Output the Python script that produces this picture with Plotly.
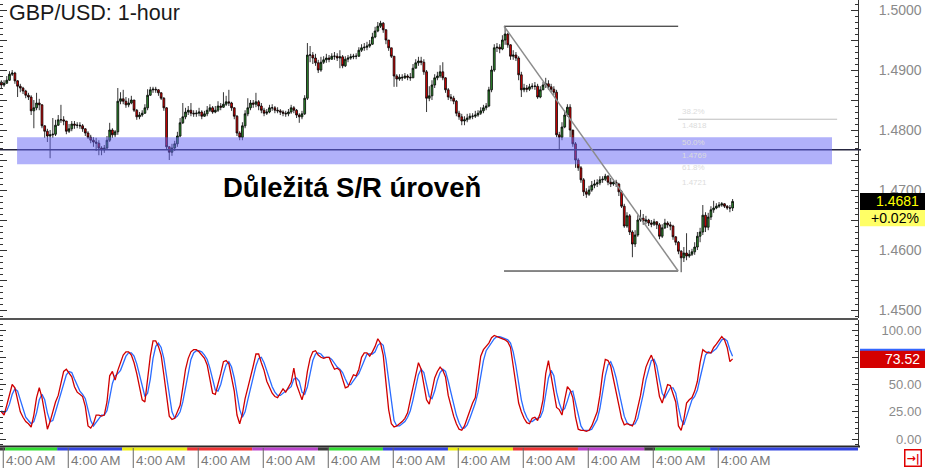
import plotly.graph_objects as go

# ---------------- data ----------------
first_open = 1.4880
close_ = [
    1.4875, 1.4878, 1.4883, 1.4893, 1.4895, 1.4882, 1.4873, 1.4870, 1.4865, 1.4858, 1.4855, 1.4832, 1.4837, 1.4845, 1.4842, 1.4807, 1.4798, 1.4790, 1.4792, 1.4793, 1.4808, 1.4817, 1.4817, 1.4815,
    1.4798, 1.4802, 1.4810, 1.4808, 1.4808, 1.4807, 1.4802, 1.4795, 1.4788, 1.4783, 1.4780, 1.4778, 1.4770, 1.4767, 1.4770, 1.4783, 1.4800, 1.4792, 1.4797, 1.4848, 1.4852, 1.4848, 1.4842, 1.4845,
    1.4850, 1.4833, 1.4822, 1.4825, 1.4828, 1.4837, 1.4858, 1.4867, 1.4868, 1.4867, 1.4862, 1.4853, 1.4837, 1.4772, 1.4763, 1.4770, 1.4777, 1.4790, 1.4812, 1.4822, 1.4830, 1.4833, 1.4828, 1.4827,
    1.4828, 1.4830, 1.4823, 1.4827, 1.4833, 1.4837, 1.4830, 1.4833, 1.4840, 1.4838, 1.4843, 1.4847, 1.4845, 1.4837, 1.4823, 1.4795, 1.4788, 1.4807, 1.4827, 1.4837, 1.4845, 1.4843, 1.4847, 1.4840,
    1.4833, 1.4828, 1.4830, 1.4837, 1.4837, 1.4833, 1.4832, 1.4830, 1.4828, 1.4827, 1.4830, 1.4837, 1.4833, 1.4825, 1.4822, 1.4827, 1.4853, 1.4925, 1.4925, 1.4920, 1.4912, 1.4900, 1.4913, 1.4917,
    1.4920, 1.4918, 1.4923, 1.4923, 1.4920, 1.4922, 1.4907, 1.4918, 1.4920, 1.4922, 1.4923, 1.4923, 1.4933, 1.4937, 1.4938, 1.4940, 1.4943, 1.4955, 1.4965, 1.4973, 1.4978, 1.4967, 1.4950, 1.4937,
    1.4923, 1.4890, 1.4885, 1.4888, 1.4887, 1.4890, 1.4888, 1.4887, 1.4903, 1.4912, 1.4915, 1.4913, 1.4897, 1.4853, 1.4857, 1.4875, 1.4887, 1.4890, 1.4897, 1.4887, 1.4867, 1.4855, 1.4853, 1.4848,
    1.4828, 1.4822, 1.4815, 1.4817, 1.4820, 1.4823, 1.4823, 1.4825, 1.4828, 1.4832, 1.4837, 1.4840, 1.4867, 1.4900, 1.4937, 1.4938, 1.4935, 1.4950, 1.4960, 1.4942, 1.4923, 1.4925, 1.4920, 1.4892,
    1.4867, 1.4870, 1.4868, 1.4872, 1.4873, 1.4873, 1.4855, 1.4867, 1.4875, 1.4877, 1.4872, 1.4868, 1.4863, 1.4792, 1.4788, 1.4805, 1.4825, 1.4838, 1.4800, 1.4777, 1.4750, 1.4737, 1.4717, 1.4697,
    1.4693, 1.4700, 1.4708, 1.4710, 1.4712, 1.4717, 1.4718, 1.4723, 1.4713, 1.4710, 1.4713, 1.4710, 1.4697, 1.4673, 1.4640, 1.4657, 1.4630, 1.4610, 1.4625, 1.4650, 1.4653, 1.4648, 1.4650, 1.4645,
    1.4643, 1.4647, 1.4642, 1.4623, 1.4637, 1.4645, 1.4642, 1.4640, 1.4622, 1.4613, 1.4598, 1.4587, 1.4595, 1.4590, 1.4593, 1.4597, 1.4605, 1.4623, 1.4630, 1.4658, 1.4638, 1.4655, 1.4667, 1.4670,
    1.4673, 1.4675, 1.4677, 1.4673, 1.4670, 1.4670, 1.4681,
]
high_ = [
    1.4883, 1.4883, 1.4890, 1.4898, 1.4900, 1.4897, 1.4883, 1.4877, 1.4872, 1.4867, 1.4862, 1.4858, 1.4850, 1.4862, 1.4852, 1.4843, 1.4808, 1.4802, 1.4800, 1.4820, 1.4817, 1.4825, 1.4842, 1.4823,
    1.4815, 1.4810, 1.4815, 1.4815, 1.4813, 1.4813, 1.4810, 1.4803, 1.4798, 1.4792, 1.4788, 1.4787, 1.4783, 1.4773, 1.4775, 1.4790, 1.4812, 1.4803, 1.4800, 1.4870, 1.4863, 1.4867, 1.4855, 1.4853,
    1.4857, 1.4850, 1.4835, 1.4830, 1.4833, 1.4843, 1.4868, 1.4872, 1.4872, 1.4872, 1.4868, 1.4863, 1.4855, 1.4838, 1.4773, 1.4777, 1.4782, 1.4797, 1.4820, 1.4845, 1.4837, 1.4840, 1.4845, 1.4833,
    1.4833, 1.4837, 1.4833, 1.4832, 1.4840, 1.4843, 1.4840, 1.4840, 1.4848, 1.4845, 1.4863, 1.4857, 1.4867, 1.4847, 1.4838, 1.4825, 1.4798, 1.4813, 1.4833, 1.4853, 1.4850, 1.4850, 1.4862, 1.4850,
    1.4845, 1.4837, 1.4835, 1.4842, 1.4843, 1.4840, 1.4838, 1.4835, 1.4833, 1.4832, 1.4835, 1.4842, 1.4840, 1.4835, 1.4828, 1.4832, 1.4858, 1.4945, 1.4940, 1.4930, 1.4927, 1.4917, 1.4922, 1.4923,
    1.4927, 1.4925, 1.4928, 1.4930, 1.4928, 1.4933, 1.4925, 1.4923, 1.4925, 1.4927, 1.4927, 1.4928, 1.4938, 1.4943, 1.4945, 1.4947, 1.4950, 1.4962, 1.4972, 1.4980, 1.4982, 1.4980, 1.4968, 1.4950,
    1.4937, 1.4923, 1.4893, 1.4893, 1.4893, 1.4895, 1.4893, 1.4895, 1.4910, 1.4918, 1.4922, 1.4922, 1.4918, 1.4900, 1.4873, 1.4883, 1.4893, 1.4897, 1.4908, 1.4913, 1.4888, 1.4870, 1.4860, 1.4857,
    1.4850, 1.4832, 1.4827, 1.4823, 1.4827, 1.4828, 1.4828, 1.4832, 1.4833, 1.4838, 1.4842, 1.4845, 1.4872, 1.4907, 1.4943, 1.4945, 1.4943, 1.4958, 1.4972, 1.4962, 1.4943, 1.4933, 1.4930, 1.4923,
    1.4897, 1.4877, 1.4875, 1.4877, 1.4878, 1.4880, 1.4877, 1.4873, 1.4880, 1.4887, 1.4883, 1.4877, 1.4873, 1.4867, 1.4797, 1.4813, 1.4833, 1.4843, 1.4843, 1.4792, 1.4780, 1.4753, 1.4740, 1.4720,
    1.4703, 1.4707, 1.4715, 1.4717, 1.4718, 1.4723, 1.4723, 1.4727, 1.4725, 1.4720, 1.4718, 1.4717, 1.4712, 1.4700, 1.4677, 1.4663, 1.4660, 1.4633, 1.4633, 1.4658, 1.4667, 1.4660, 1.4657, 1.4652,
    1.4650, 1.4652, 1.4648, 1.4645, 1.4643, 1.4652, 1.4648, 1.4647, 1.4642, 1.4623, 1.4615, 1.4600, 1.4605, 1.4628, 1.4600, 1.4602, 1.4613, 1.4630, 1.4637, 1.4675, 1.4663, 1.4662, 1.4673, 1.4682,
    1.4678, 1.4680, 1.4680, 1.4678, 1.4675, 1.4675, 1.4685,
]
low_ = [
    1.4870, 1.4872, 1.4877, 1.4882, 1.4890, 1.4877, 1.4855, 1.4863, 1.4860, 1.4853, 1.4850, 1.4825, 1.4803, 1.4833, 1.4833, 1.4803, 1.4787, 1.4780, 1.4753, 1.4787, 1.4790, 1.4807, 1.4812, 1.4808,
    1.4793, 1.4795, 1.4798, 1.4802, 1.4803, 1.4802, 1.4797, 1.4790, 1.4785, 1.4778, 1.4772, 1.4765, 1.4758, 1.4758, 1.4762, 1.4767, 1.4780, 1.4787, 1.4788, 1.4792, 1.4843, 1.4843, 1.4837, 1.4838,
    1.4843, 1.4830, 1.4817, 1.4818, 1.4822, 1.4827, 1.4833, 1.4857, 1.4862, 1.4862, 1.4857, 1.4850, 1.4832, 1.4767, 1.4750, 1.4757, 1.4765, 1.4772, 1.4788, 1.4810, 1.4818, 1.4825, 1.4823, 1.4822,
    1.4822, 1.4823, 1.4818, 1.4822, 1.4823, 1.4830, 1.4827, 1.4828, 1.4830, 1.4833, 1.4837, 1.4840, 1.4840, 1.4832, 1.4818, 1.4790, 1.4783, 1.4783, 1.4803, 1.4823, 1.4833, 1.4837, 1.4838, 1.4833,
    1.4828, 1.4823, 1.4825, 1.4828, 1.4832, 1.4828, 1.4828, 1.4825, 1.4823, 1.4822, 1.4823, 1.4827, 1.4828, 1.4820, 1.4812, 1.4818, 1.4825, 1.4850, 1.4913, 1.4910, 1.4907, 1.4895, 1.4897, 1.4910,
    1.4912, 1.4913, 1.4917, 1.4917, 1.4915, 1.4903, 1.4903, 1.4905, 1.4913, 1.4917, 1.4918, 1.4918, 1.4922, 1.4930, 1.4932, 1.4933, 1.4937, 1.4942, 1.4953, 1.4963, 1.4970, 1.4962, 1.4943, 1.4932,
    1.4920, 1.4872, 1.4872, 1.4882, 1.4882, 1.4885, 1.4883, 1.4882, 1.4887, 1.4903, 1.4907, 1.4908, 1.4892, 1.4830, 1.4848, 1.4850, 1.4870, 1.4883, 1.4887, 1.4883, 1.4862, 1.4850, 1.4848, 1.4843,
    1.4823, 1.4817, 1.4808, 1.4808, 1.4813, 1.4817, 1.4818, 1.4820, 1.4822, 1.4825, 1.4828, 1.4833, 1.4838, 1.4863, 1.4897, 1.4930, 1.4928, 1.4933, 1.4942, 1.4937, 1.4917, 1.4917, 1.4915, 1.4883,
    1.4855, 1.4863, 1.4863, 1.4865, 1.4868, 1.4867, 1.4852, 1.4853, 1.4867, 1.4870, 1.4867, 1.4863, 1.4858, 1.4788, 1.4767, 1.4783, 1.4803, 1.4822, 1.4788, 1.4772, 1.4737, 1.4732, 1.4712, 1.4690,
    1.4687, 1.4690, 1.4697, 1.4703, 1.4705, 1.4708, 1.4712, 1.4715, 1.4708, 1.4705, 1.4707, 1.4705, 1.4690, 1.4670, 1.4637, 1.4637, 1.4625, 1.4588, 1.4605, 1.4622, 1.4647, 1.4642, 1.4643, 1.4640,
    1.4638, 1.4640, 1.4635, 1.4618, 1.4620, 1.4635, 1.4637, 1.4633, 1.4617, 1.4608, 1.4593, 1.4563, 1.4580, 1.4583, 1.4587, 1.4590, 1.4592, 1.4600, 1.4613, 1.4625, 1.4630, 1.4633, 1.4650, 1.4662,
    1.4668, 1.4670, 1.4672, 1.4670, 1.4667, 1.4663, 1.4665,
]
open_ = [first_open] + close_[:-1]   # hourly FX: each bar opens at the previous close
bars = list(range(len(close_)))

stoch_k = [
    25, 22, 31, 42, 50, 47, 36, 25, 20, 16, 14, 11, 22, 38, 47, 38, 24, 9, 16, 25, 34, 40, 50, 62,
    64, 61, 57, 48, 43, 41, 39, 30, 12, 10, 14, 22, 22, 21, 22, 34, 58, 62, 54, 63, 71, 77, 80, 80,
    77, 70, 60, 48, 36, 34, 55, 76, 90, 90, 85, 77, 59, 37, 21, 18, 19, 25, 31, 47, 64, 74, 80, 82,
    82, 80, 77, 74, 68, 53, 42, 41, 50, 60, 71, 72, 69, 56, 44, 22, 14, 23, 37, 47, 56, 67, 78, 78,
    70, 63, 53, 48, 42, 39, 38, 42, 46, 43, 48, 52, 65, 50, 43, 36, 45, 62, 74, 80, 81, 77, 75, 74,
    75, 75, 69, 64, 65, 63, 55, 47, 48, 54, 59, 58, 64, 75, 79, 79, 76, 80, 85, 92, 88, 77, 54, 27,
    14, 11, 12, 14, 16, 19, 24, 36, 48, 59, 70, 64, 49, 36, 32, 44, 56, 62, 66, 63, 57, 40, 30, 21,
    14, 9, 8, 12, 19, 27, 33, 38, 57, 76, 82, 85, 88, 93, 95, 94, 93, 92, 91, 89, 84, 67, 49, 33,
    25, 19, 15, 14, 19, 20, 17, 24, 36, 60, 72, 58, 43, 29, 27, 22, 36, 48, 45, 38, 20, 9, 8, 8,
    7, 8, 12, 18, 25, 40, 60, 73, 72, 67, 56, 44, 31, 19, 13, 14, 13, 12, 18, 28, 40, 55, 66, 72,
    77, 70, 53, 39, 33, 42, 50, 49, 42, 34, 12, 8, 18, 33, 36, 38, 44, 53, 70, 82, 80, 79, 79, 84,
    87, 91, 94, 91, 84, 71, 73.52,
]
stoch_d = [
    26, 24, 26, 32, 41, 46, 44, 36, 27, 20, 17, 14, 16, 24, 36, 41, 36, 24, 16, 17, 25, 33, 41, 51,
    59, 62, 61, 55, 49, 44, 41, 37, 27, 17, 12, 15, 19, 22, 22, 26, 38, 51, 58, 60, 63, 70, 76, 79,
    79, 76, 69, 59, 48, 39, 42, 55, 74, 85, 88, 84, 74, 58, 39, 25, 19, 21, 25, 34, 47, 62, 73, 79,
    81, 81, 80, 77, 73, 65, 54, 45, 44, 50, 60, 68, 71, 66, 56, 41, 27, 20, 25, 36, 47, 57, 67, 74,
    75, 70, 62, 55, 48, 43, 40, 40, 42, 44, 46, 48, 55, 56, 53, 43, 41, 48, 60, 72, 78, 79, 78, 75,
    75, 75, 73, 69, 66, 64, 61, 55, 50, 50, 54, 57, 60, 66, 73, 78, 78, 78, 80, 86, 88, 86, 73, 53,
    32, 17, 12, 12, 14, 16, 20, 26, 36, 48, 59, 64, 61, 50, 39, 37, 44, 54, 61, 64, 62, 53, 42, 30,
    22, 15, 10, 10, 13, 19, 26, 33, 43, 57, 72, 81, 85, 89, 92, 94, 94, 93, 92, 91, 88, 80, 67, 50,
    36, 26, 20, 16, 16, 18, 19, 20, 26, 40, 56, 63, 58, 43, 33, 26, 28, 35, 43, 44, 34, 22, 12, 8,
    8, 8, 9, 13, 18, 28, 42, 58, 68, 71, 65, 56, 44, 31, 21, 15, 13, 13, 14, 19, 29, 41, 54, 64,
    72, 73, 67, 54, 42, 38, 42, 47, 47, 42, 29, 18, 13, 20, 29, 36, 39, 45, 56, 68, 77, 80, 79, 81,
    83, 87, 91, 92, 90, 82, 76,
]

title_text = "GBP/USD: 1-hour"
sr_label = "Důležitá S/R úroveň"
label_bars = [0, 24, 48, 72, 96, 120, 144, 168, 192, 216, 240, 264]
tick_labels = ["4:00 AM"] * 12
price_ticks = [1.4500, 1.4550, 1.4600, 1.4650, 1.4700, 1.4750, 1.4800, 1.4850, 1.4900, 1.4950, 1.5000]
price_tick_text = ["1.4500", "", "1.4600", "", "1.4700", "", "1.4800", "", "1.4900", "", "1.5000"]
stoch_ticks = [0, 25, 50, 75, 100]
# the 75.00 label sits fully under the value box in the reference
stoch_tick_text = ["\u2007\u20070.00", "\u200725.00", "\u200750.00", "", "100.00"]
last_price_text = "1.4681"
change_text = "+0.02%"
stoch_last_text = "73.52"

sr_level = 1.4767
sr_zone_low, sr_zone_high = 1.4743, 1.4788
swing_high, swing_low = 1.4973, 1.4565
fib_382 = 1.4818
fib_labels = [("38.2%", 1.4831), ("1.4818", 1.4808), ("50.0%", 1.4780), ("1.4769", 1.4758),
              ("61.8%", 1.4737), ("1.4721", 1.4713)]

# session strip (day-of-week colours) boundaries in bar units
strip_edges = [-0.5, 1.4, 20.6, 44.6, 68.6, 92.6, 116.9, 121.0, 140.9, 164.9, 188.9, 212.9, 237.4, 241.4, 261.7, 316.4]
strip_colors = ["#3a3a3a", "#33dd33", "#3344e0", "#eeee11", "#ee3333", "#bb44cc", "#3a3a3a",
                "#33dd33", "#3344e0", "#eeee11", "#ee3333", "#bb44cc", "#3a3a3a", "#33dd33", "#3344e0"]

# ---------------- geometry ----------------
W, H = 925, 468
PW, PH = 858, 446          # plot area in pixels (l=0, t=0)
def px(x):  # pixel x -> paper
    return x / PW
def py(y):  # pixel y -> paper
    return (PH - y) / PH

FONT = "Liberation Sans, Arial, sans-serif"
XR = [-0.5, 316.3]

fig = go.Figure()
fig.add_trace(go.Candlestick(
    x=bars, open=open_, high=high_, low=low_, close=close_,
    increasing=dict(line=dict(color="#000000", width=0.8), fillcolor="#2f8f2f"),
    decreasing=dict(line=dict(color="#000000", width=0.8), fillcolor="#e00000"),
    whiskerwidth=0, xaxis="x", yaxis="y", showlegend=False, hoverinfo="skip"))
fig.add_trace(go.Scatter(x=bars, y=stoch_d, mode="lines", line=dict(color="#2a6cff", width=1.3),
                         xaxis="x2", yaxis="y2", showlegend=False, hoverinfo="skip"))
fig.add_trace(go.Scatter(x=bars, y=stoch_k, mode="lines", line=dict(color="#d00000", width=1.3),
                         xaxis="x2", yaxis="y2", showlegend=False, hoverinfo="skip"))

axis_common = dict(showgrid=False, zeroline=False)
fig.update_layout(
    width=W, height=H, margin=dict(l=0, r=W - PW, t=0, b=H - PH),
    paper_bgcolor="white", plot_bgcolor="white", showlegend=False,
    font=dict(family=FONT), boxgap=0.05,
    xaxis=dict(domain=[0, 1], range=XR, anchor="y", showticklabels=False, ticks="",
               rangeslider=dict(visible=False), **axis_common),
    xaxis2=dict(domain=[0, 1], range=XR, anchor="y2", matches="x", showticklabels=False, ticks="",
                **axis_common),
    yaxis=dict(domain=[0.2870, 1], range=[1.44867, 1.50167], side="right", anchor="x",
               tickmode="array", tickvals=price_ticks, ticktext=price_tick_text,
               ticks="inside", ticklen=7, tickwidth=1, tickcolor="#333333",
               showline=True, linecolor="#333333", linewidth=1, mirror="ticks",
               tickfont=dict(family=FONT, size=14, color="#8a8a8a"), ticklabelstandoff=17,
               minor=dict(tickmode="linear", tick0=1.5, dtick=0.001, ticks="inside", ticklen=3,
                          tickcolor="#333333"),
               **axis_common),
    yaxis2=dict(domain=[0, 0.2825], range=[-6.4, 109.2], side="right", anchor="x2",
                tickmode="array", tickvals=stoch_ticks, ticktext=stoch_tick_text,
                ticks="inside", ticklen=6, tickwidth=1, tickcolor="#333333",
                showline=True, linecolor="#333333", linewidth=1, mirror="ticks",
                tickfont=dict(family=FONT, size=13, color="#8a8a8a"), ticklabelstandoff=20,
                minor=dict(tickmode="linear", tick0=0, dtick=5, ticks="inside", ticklen=3,
                           tickcolor="#333333"),
                **axis_common),
)

shapes = []
# S/R line (under the translucent band)
shapes.append(dict(type="line", xref="paper", yref="y", x0=0, x1=px(861), y0=sr_level, y1=sr_level,
                   line=dict(color="#262640", width=1.5), layer="above"))
shapes.append(dict(type="rect", xref="x", yref="y", x0=5.8, x1=306.7, y0=sr_zone_low, y1=sr_zone_high,
                   fillcolor="rgb(100,100,245)", opacity=0.5, line=dict(width=0), layer="above"))
# swing drawing
x_top, x_bot = 185.6, 249.9
shapes.append(dict(type="line", xref="x", yref="y", x0=x_top, x1=x_bot, y0=swing_high, y1=swing_high,
                   line=dict(color="#111111", width=1), layer="above"))
shapes.append(dict(type="line", xref="x", yref="y", x0=x_top, x1=x_bot, y0=swing_low, y1=swing_low,
                   line=dict(color="#111111", width=1), layer="above"))
shapes.append(dict(type="line", xref="x", yref="y", x0=x_top, x1=x_bot, y0=swing_high, y1=swing_low,
                   line=dict(color="#8c8c8c", width=1.5), layer="above"))
shapes.append(dict(type="line", xref="x", yref="y", x0=x_bot, x1=308.6, y0=fib_382, y1=fib_382,
                   line=dict(color="#bdbdbd", width=1), layer="above"))
# panel separators
shapes.append(dict(type="line", xref="paper", yref="paper", x0=0, x1=1, y0=py(319), y1=py(319),
                   line=dict(color="#555555", width=2), layer="above"))
shapes.append(dict(type="line", xref="paper", yref="paper", x0=0, x1=px(860), y0=py(446.5), y1=py(446.5),
                   line=dict(color="#2a2a2a", width=2), layer="above"))
# session strip
for k, col in enumerate(strip_colors):
    shapes.append(dict(type="rect", xref="x", yref="paper", x0=strip_edges[k], x1=strip_edges[k + 1],
                       y0=py(450.5), y1=py(447.5), fillcolor=col, line=dict(width=0), layer="above"))
# day separators below the axis
for b in label_bars:
    shapes.append(dict(type="line", xref="x", yref="paper", x0=b + 0.7, x1=b + 0.7, y0=py(448), y1=py(468),
                       line=dict(color="#666666", width=1), layer="above"))
# last-price boxes
hp = 0.00142
shapes.append(dict(type="rect", xref="paper", yref="y", x0=px(860), x1=px(925),
                   y0=close_[-1] - hp, y1=close_[-1] + hp, fillcolor="#000000", line=dict(width=0)))
shapes.append(dict(type="rect", xref="paper", yref="y", x0=px(860), x1=px(925),
                   y0=close_[-1] - hp - 0.00270, y1=close_[-1] - hp, fillcolor="#ffff66", line=dict(width=0)))
hs = 8.3
shapes.append(dict(type="rect", xref="paper", yref="y2", x0=px(860), x1=px(925),
                   y0=stoch_k[-1] - hs, y1=stoch_k[-1] + hs, fillcolor="#d40000", line=dict(width=0)))
shapes.append(dict(type="line", xref="paper", yref="y2", x0=px(860), x1=px(925),
                   y0=stoch_k[-1] + hs, y1=stoch_k[-1] + hs, line=dict(color="#3366ff", width=2)))
fig.update_layout(shapes=shapes)

ann = []
ann.append(dict(text=title_text, xref="paper", yref="paper", x=px(7), y=py(12.5), xanchor="left",
                yanchor="middle", showarrow=False, font=dict(family=FONT, size=21.5, color="#1a1a1a")))
ann.append(dict(text="<b>" + sr_label + "</b>", xref="paper", yref="paper", x=px(221), y=py(187.5),
                xanchor="left", yanchor="middle", showarrow=False,
                font=dict(family=FONT, size=27.5, color="#000000")))
for b, t in zip(label_bars, tick_labels):
    ann.append(dict(text=t, xref="x", yref="paper", x=b + 0.7, y=py(460), xanchor="left", xshift=1,
                    yanchor="middle", showarrow=False, font=dict(family=FONT, size=13.5, color="#7a7a7a")))
for t, yv in fib_labels:
    ann.append(dict(text=t, xref="x", yref="y", x=250.5, y=yv, xanchor="left", yanchor="middle",
                    showarrow=False, font=dict(family=FONT, size=8, color="#dcdcdc")))
ann.append(dict(text=last_price_text, xref="paper", yref="y", x=px(921), y=close_[-1], xanchor="right",
                yanchor="middle", showarrow=False, font=dict(family=FONT, size=14, color="#ffff00")))
ann.append(dict(text=change_text, xref="paper", yref="y", x=px(921), y=close_[-1] - hp - 0.00135,
                xanchor="right", yanchor="middle", showarrow=False,
                font=dict(family=FONT, size=14, color="#000000")))
ann.append(dict(text=stoch_last_text, xref="paper", yref="y2", x=px(922), y=stoch_k[-1], xanchor="right",
                yanchor="middle", showarrow=False, font=dict(family=FONT, size=14, color="#ffffff")))
ann.append(dict(text="<b>\u2192|</b>", xref="paper", yref="paper", x=px(913.5), y=py(458.5),
                xanchor="center", yanchor="middle", showarrow=False, bordercolor="#e00000",
                borderwidth=1.5, borderpad=1, bgcolor="white",
                font=dict(family="DejaVu Sans", size=11, color="#e00000")))
fig.update_layout(annotations=ann)

fig.write_html("out.html", config={"displayModeBar": False},
               post_script="document.body.style.margin='0px';document.body.style.padding='0px';"
                           "document.documentElement.style.overflow='hidden';")
